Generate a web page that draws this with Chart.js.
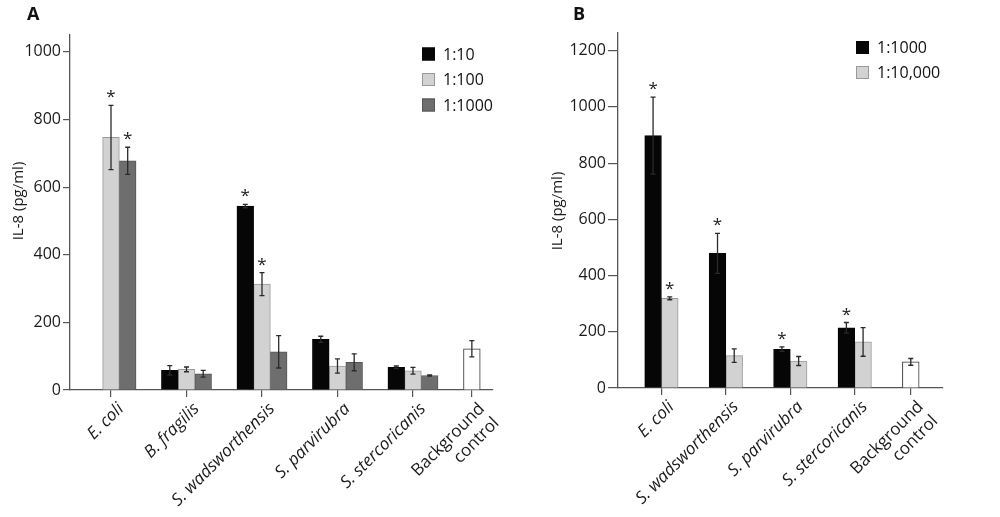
<!DOCTYPE html>
<html>
<head>
<meta charset="utf-8">
<script src="https://cdn.jsdelivr.net/npm/chart.js@4.4.1/dist/chart.umd.min.js"></script>
<style>
  body { margin: 0; background: #fff; }
  .panel { position: absolute; top: 0; width: 500px; height: 517px; }
  #panelA { left: 0; }
  #panelB { left: 500px; }
</style>
</head>
<body>
<div class="panel" id="panelA"><canvas id="chartA"></canvas></div>
<div class="panel" id="panelB"><canvas id="chartB"></canvas></div>
<script>
// ---------- data: panel A ----------
const labelsA = ["E. coli", "B. fragilis", "S. wadsworthensis", "S. parvirubra", "S. stercoricanis", ["Background", "control"]];
const a_1_10 = [null, 58, 544, 150, 67, null];
const a_1_10_err = [0, 14, 5, 9, 4, 0];
const a_1_100 = [747, 61, 313, 71, 57, null];
const a_1_100_err = [95, 7, 34, 21, 10, 0];
const a_1_1000 = [678, 48, 113, 82, 43, null];
const a_1_1000_err = [40, 10, 48, 25, 2, 0];
const a_control = [122];
const a_control_err = [24];
const a_1_10_star = [false, false, true, false, false, false];
const a_1_100_star = [true, false, true, false, false, false];
const a_1_1000_star = [true, false, false, false, false, false];
const yTicksA = [0, 200, 400, 600, 800, 1000];

// ---------- data: panel B ----------
const labelsB = ["E. coli", "S. wadsworthensis", "S. parvirubra", "S. stercoricanis", ["Background", "control"]];
const b_1_1000 = [898, 479, 138, 214, null];
const b_1_1000_err = [137, 71, 8, 19, 0];
const b_1_10000 = [319, 115, 96, 164, null];
const b_1_10000_err = [5, 24, 16, 51, 0];
const b_control = [93];
const b_control_err = [12];
const b_1_1000_star = [true, true, true, true, false];
const b_1_10000_star = [true, false, false, false, false];
const yTicksB = [0, 200, 400, 600, 800, 1000, 1200];

const yTitle = "IL-8 (pg/ml)";

// where the groups sit along x (the control group is set closer in the figure)
const slotA = [0, 1, 2, 3, 4, 4.78];
const slotB = [0, 1, 2, 3, 3.87];

const FONT = "'Open Sans', 'DejaVu Sans', sans-serif";
const AXIS = "#555";
const TEXT = "#1a1a1a";

function pts(slots, vals) {
  return vals.map((v, i) => ({ x: slots[i], y: v }));
}

/*
  error bars + asterisks + legend + panel letter + y title
*/
const extras = {
  id: "extras",
  afterDatasetsDraw(chart) {
    const ctx = chart.ctx;
    const y = chart.scales.y;
    ctx.save();
    chart.data.datasets.forEach((ds, di) => {
      const meta = chart.getDatasetMeta(di);
      meta.data.forEach((bar, i) => {
        const v = ds.data[i].y;
        if (v === null) return;
        const e = ds.err[i] || 0;
        const top = y.getPixelForValue(v + e);
        const bot = y.getPixelForValue(v - e);
        ctx.strokeStyle = "#2a2a2a";
        ctx.lineWidth = 1.3;
        ctx.beginPath();
        ctx.moveTo(bar.x, top); ctx.lineTo(bar.x, bot);
        ctx.moveTo(bar.x - 2.5, top); ctx.lineTo(bar.x + 2.5, top);
        ctx.moveTo(bar.x - 2.5, bot); ctx.lineTo(bar.x + 2.5, bot);
        ctx.stroke();
        if (ds.star && ds.star[i]) {
          ctx.fillStyle = "#222";
          ctx.font = "17px " + FONT;
          ctx.textAlign = "center";
          ctx.textBaseline = "alphabetic";
          ctx.fillText("*", bar.x, top - 3);
        }
      });
    });
    ctx.restore();
  },
  afterDraw(chart, args, opts) {
    const ctx = chart.ctx;
    ctx.save();
    // panel letter
    ctx.fillStyle = "#111";
    ctx.font = "bold 18px " + FONT;
    ctx.textAlign = "left";
    ctx.textBaseline = "alphabetic";
    ctx.fillText(opts.letter, opts.letterX, 20);
    // y axis title
    ctx.save();
    ctx.translate(opts.titleX, opts.titleY);
    ctx.rotate(-Math.PI / 2);
    ctx.font = "15px " + FONT;
    ctx.fillStyle = TEXT;
    ctx.textAlign = "center";
    ctx.textBaseline = "middle";
    ctx.fillText(yTitle, 0, 0);
    ctx.restore();
    // legend
    ctx.font = "16px " + FONT;
    ctx.textBaseline = "middle";
    chart.data.datasets.forEach((ds, i) => {
      if (!ds.inLegend) return;
      const cy = opts.legY + i * opts.legGap;
      ctx.fillStyle = ds.backgroundColor;
      ctx.fillRect(opts.legX, cy - 6.5, 13, 13);
      ctx.strokeStyle = ds.borderColor;
      ctx.lineWidth = 1;
      ctx.strokeRect(opts.legX + 0.5, cy - 6, 12, 12);
      ctx.fillStyle = "#111";
      ctx.fillText(ds.label, opts.legX + 21, cy + 1);
    });
    ctx.restore();
  }
};

function makeChart(canvasId, cfg) {
  const yTicks = cfg.yTicks;
  return new Chart(document.getElementById(canvasId), {
    type: "bar",
    data: { datasets: cfg.datasets },
    options: {
      responsive: true,
      maintainAspectRatio: false,
      animation: false,
      layout: { padding: { left: 0, right: cfg.padRight, top: cfg.padTop, bottom: 0 } },
      plugins: {
        legend: { display: false },
        tooltip: { enabled: false },
        extras: cfg.extras
      },
      scales: {
        x: {
          type: "linear",
          offset: false,
          min: cfg.xMin,
          max: cfg.xMax,
          afterBuildTicks(scale) {
            scale.ticks = cfg.slots.map(v => ({ value: v }));
          },
          afterFit(scale) {
            scale.height = cfg.xHeight;
            // rotated labels may hang outside; don't let them squeeze the plot
            scale.paddingLeft = 0;
            scale.paddingRight = 0;
          },
          grid: { offset: false, drawOnChartArea: false, drawTicks: true, tickLength: 7, color: AXIS, lineWidth: 1.2 },
          border: { color: AXIS, width: 1.3 },
          ticks: {
            autoSkip: false,
            maxRotation: 45,
            minRotation: 45,
            padding: 2,
            labelOffset: 10,
            color: TEXT,
            font: (c) => ({
              family: FONT,
              size: 17,
              style: c.index === cfg.slots.length - 1 ? "normal" : "italic",
              lineHeight: 1.2
            }),
            callback: (v, i) => cfg.labels[i]
          }
        },
        y: {
          min: 0,
          max: cfg.yMax,
          afterBuildTicks(scale) {
            scale.ticks = yTicks.map(v => ({ value: v }));
          },
          afterFit(scale) { scale.width = cfg.yWidth; },
          grid: { drawOnChartArea: false, drawTicks: true, tickLength: cfg.tickLen, color: AXIS, lineWidth: 1.2 },
          border: { color: AXIS, width: 1.3 },
          ticks: {
            color: TEXT,
            padding: 2,
            font: { family: FONT, size: 16 },
            callback: (v) => String(v)
          }
        }
      }
    },
    plugins: [extras]
  });
}

const barBase = { barThickness: 16.7, borderWidth: 1, borderSkipped: "bottom" };

makeChart("chartA", {
  labels: labelsA,
  slots: slotA,
  xMin: -0.543, xMax: 5.06,
  yMax: 1050, yTicks: yTicksA,
  padTop: 35, padRight: 7, xHeight: 127, yWidth: 70, tickLen: 7,
  extras: { letter: "A", letterX: 27, titleX: 18.5, titleY: 201, legX: 422, legY: 54, legGap: 25.5 },
  datasets: [
    { ...barBase, label: "1:10", data: pts(slotA, a_1_10), err: a_1_10_err, star: a_1_10_star,
      backgroundColor: "#060606", borderColor: "#060606", inLegend: true },
    { ...barBase, label: "1:100", data: pts(slotA, a_1_100), err: a_1_100_err, star: a_1_100_star,
      backgroundColor: "#d2d2d2", borderColor: "#9a9a9a", inLegend: true },
    { ...barBase, label: "1:1000", data: pts(slotA, a_1_1000), err: a_1_1000_err, star: a_1_1000_star,
      backgroundColor: "#6e6e6e", borderColor: "#555555", inLegend: true },
    { ...barBase, label: "control", grouped: false, data: pts(slotA.slice(-1), a_control), err: a_control_err,
      backgroundColor: "#ffffff", borderColor: "#333333", inLegend: false }
  ]
});

makeChart("chartB", {
  labels: labelsB,
  slots: slotB,
  xMin: -0.674, xMax: 4.37,
  yMax: 1263, yTicks: yTicksB,
  padTop: 33, padRight: 57, xHeight: 129, yWidth: 118, tickLen: 10,
  extras: { letter: "B", letterX: 73, titleX: 57.5, titleY: 211, legX: 356, legY: 47.5, legGap: 25 },
  datasets: [
    { ...barBase, label: "1:1000", data: pts(slotB, b_1_1000), err: b_1_1000_err, star: b_1_1000_star,
      backgroundColor: "#060606", borderColor: "#060606", inLegend: true },
    { ...barBase, label: "1:10,000", data: pts(slotB, b_1_10000), err: b_1_10000_err, star: b_1_10000_star,
      backgroundColor: "#d2d2d2", borderColor: "#9a9a9a", inLegend: true },
    { ...barBase, label: "control", grouped: false, data: pts(slotB.slice(-1), b_control), err: b_control_err,
      backgroundColor: "#ffffff", borderColor: "#333333", inLegend: false }
  ]
});
</script>
</body>
</html>
